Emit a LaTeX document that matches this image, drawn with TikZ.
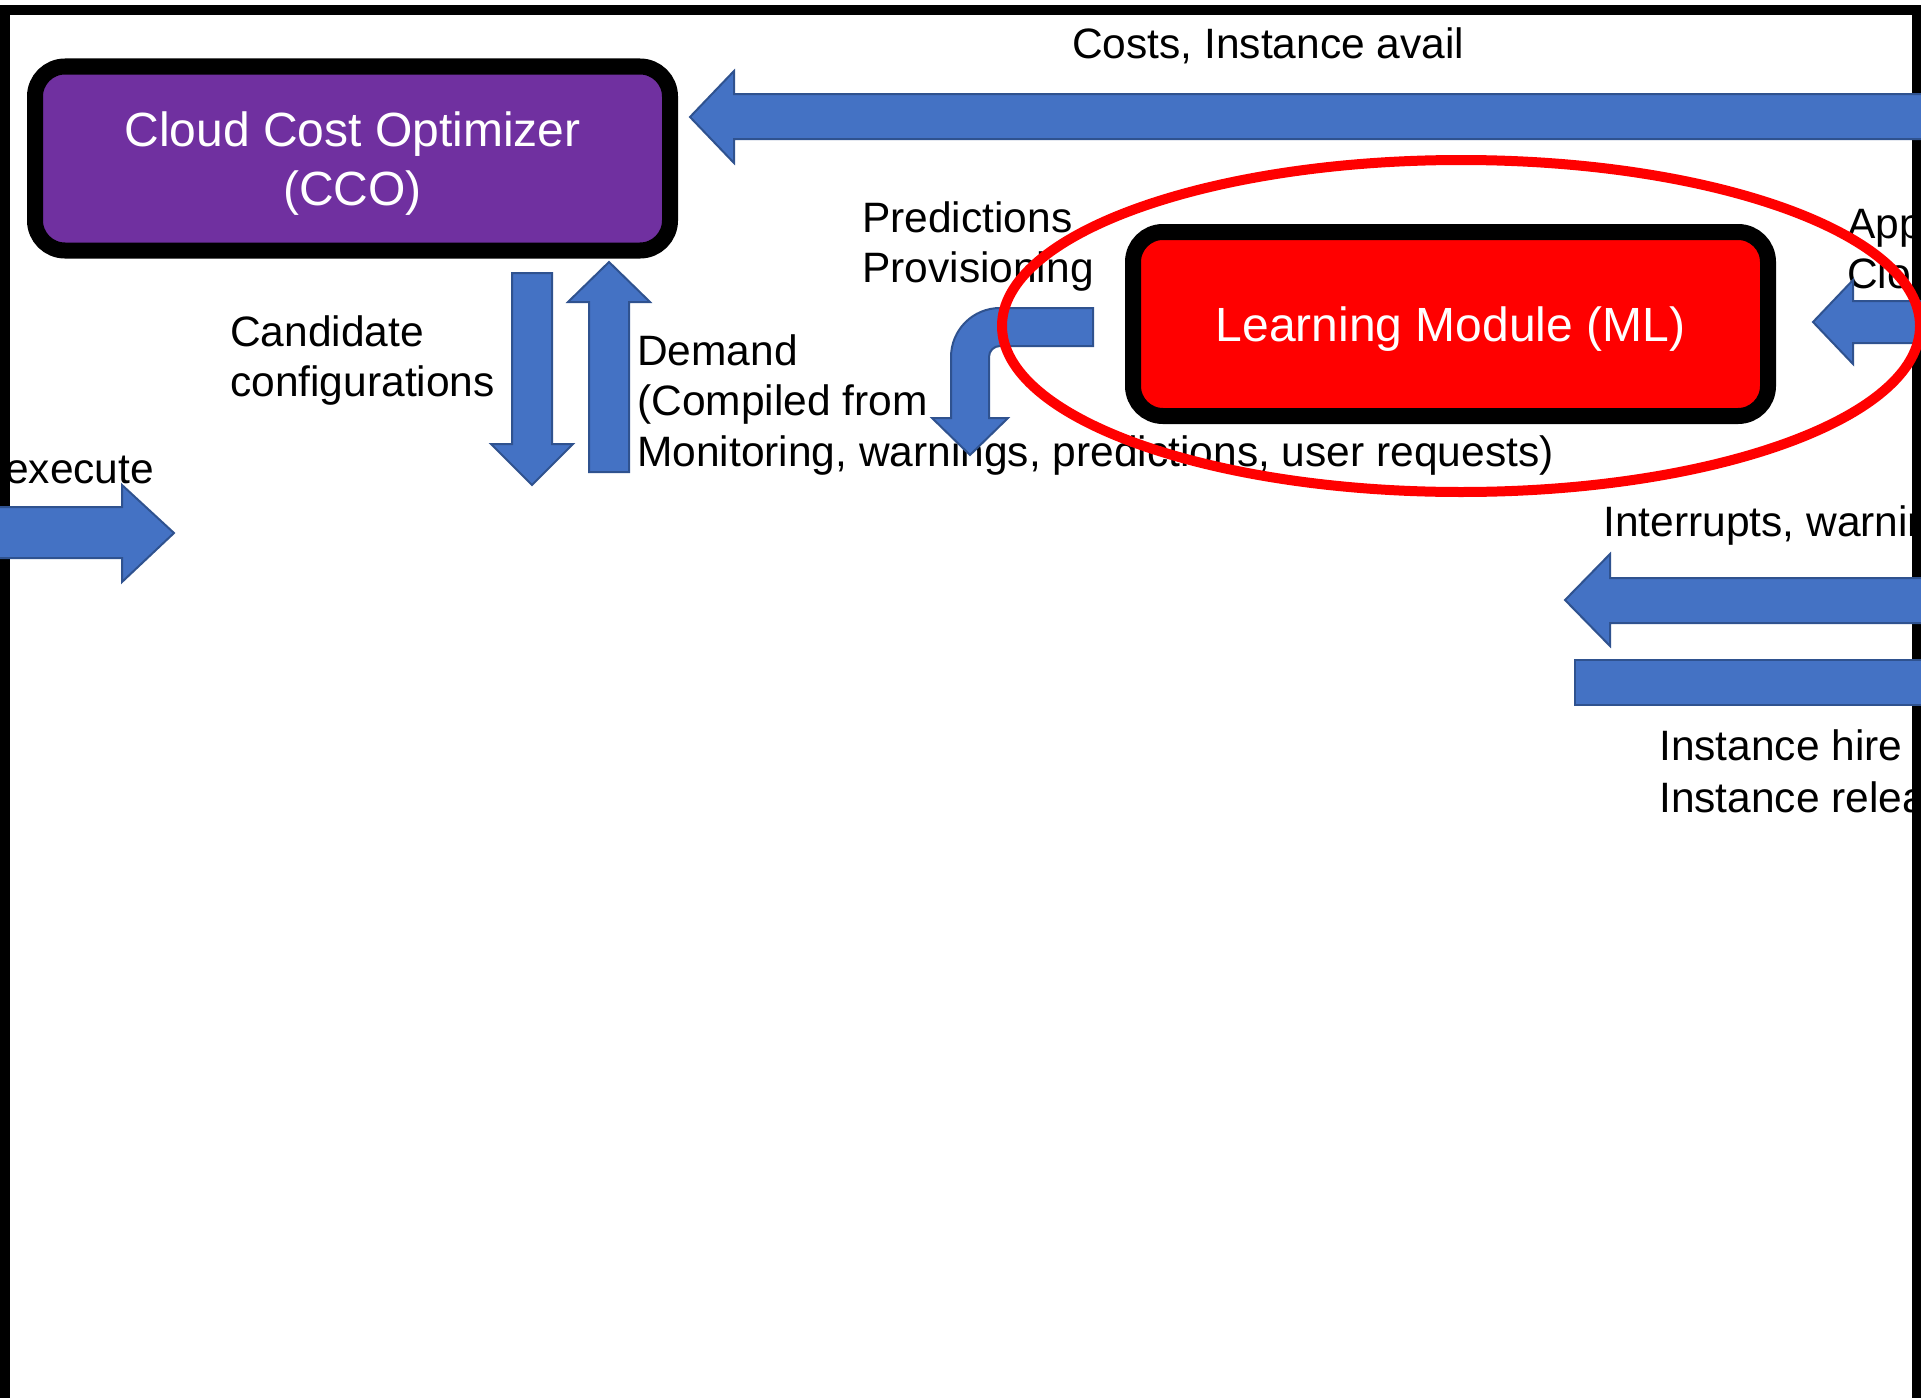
\documentclass[tikz,border=0pt]{standalone}
\usepackage{fontspec}
\setmainfont{Liberation Sans}
\usetikzlibrary{shapes.geometric}
\definecolor{arrowblue}{HTML}{4472C4}
\definecolor{arrowedge}{HTML}{2F528F}
\definecolor{ccopurple}{HTML}{7030A0}
\begin{document}
\begin{tikzpicture}[x=1pt,y=-1pt,
  blockarrow/.style={fill=arrowblue, draw=arrowedge, line width=2pt, line join=miter},
  module/.style={draw=black, line width=16pt, rounded corners=30pt,
    minimum width=635pt, minimum height=184pt, inner sep=0pt, text depth=0pt,
    text=white, font=\fontsize{48}{59}\selectfont, align=center},
  lbl/.style={anchor=base west, inner sep=0pt, font=\fontsize{42.5}{51}\selectfont},
]
\useasboundingbox (0,0) rectangle (1921,1397);

% outer frame (open at the bottom)
\draw[line width=10pt] (4.5,1420) -- (4.5,10.5) -- (1917,10.5) -- (1917,1420);

% the two modules
\node[module, fill=ccopurple] (cco) at (352.5,158.5) {Cloud Cost Optimizer\\(CCO)};
\node[module, fill=red] (ml) at (1450.5,324) {Learning Module (ML)};

% labels
\node[lbl] (costs) at (1072,59) {Costs, Instance avail};
\node[lbl] (pred1) at (862,232) {Predictions};
\node[lbl] (pred2) at (862,282) {Provisioning};
\node[lbl] (cand1) at (230,346) {Candidate};
\node[lbl] (cand2) at (230,396) {configurations};
\node[lbl] (dem1) at (637,365) {Demand};
\node[lbl] (dem2) at (637,415) {(Compiled from};
\node[lbl] (dem3) at (637,466) {Monitoring, warnings, predictions, user requests)};
\node[lbl] (exec) at (5,483) {execute};
\node[lbl] (app1) at (1847,238) {App};
\node[lbl] (app2) at (1847,288) {Clo};
\node[lbl] (intr) at (1603,536) {Interrupts, warnin};
\node[lbl] (inst1) at (1659,760) {Instance hire};
\node[lbl] (inst2) at (1659,812) {Instance relea};

% block arrows
% costs / availability into the optimizer
\draw[blockarrow] (1930,94) -- (734,94) -- (734,71) -- (690,117) -- (734,163) -- (734,139) -- (1930,139) -- cycle;
% input into the learning module
\draw[blockarrow] (1930,301) -- (1853,301) -- (1853,280) -- (1813,322) -- (1853,364) -- (1853,343) -- (1930,343) -- cycle;
% interrupts, warnings
\draw[blockarrow] (1930,578) -- (1610,578) -- (1610,554) -- (1565,600) -- (1610,646) -- (1610,623) -- (1930,623) -- cycle;
% instance hire / release
\draw[blockarrow] (1575,660) rectangle (1930,705);
% execute
\draw[blockarrow] (-10,507) -- (122,507) -- (122,485) -- (174,533) -- (122,582) -- (122,558) -- (-10,558) -- cycle;
% candidate configurations (down)
\draw[blockarrow] (512,273) -- (552,273) -- (552,444) -- (573,444) -- (532,485) -- (491,444) -- (512,444) -- cycle;
% demand (up)
\draw[blockarrow] (589,472) -- (589,302) -- (568,302) -- (609,262) -- (650,302) -- (629,302) -- (629,472) -- cycle;
% predictions / provisioning (bent)
\draw[blockarrow] (1093,308) -- (1000,308)
  .. controls (972.9,308) and (951,329.9) .. (951,357)
  -- (951,418) -- (932,418) -- (970,455) -- (1008,418) -- (989,418) -- (989,357)
  .. controls (989,350.9) and (993.9,346) .. (1000,346)
  -- (1093,346) -- cycle;

% highlight around the learning module
\node[draw=red, line width=10pt, ellipse, minimum width=918pt, minimum height=332pt, inner sep=0pt] (hl) at (1461,326) {};
\end{tikzpicture}
\end{document}
